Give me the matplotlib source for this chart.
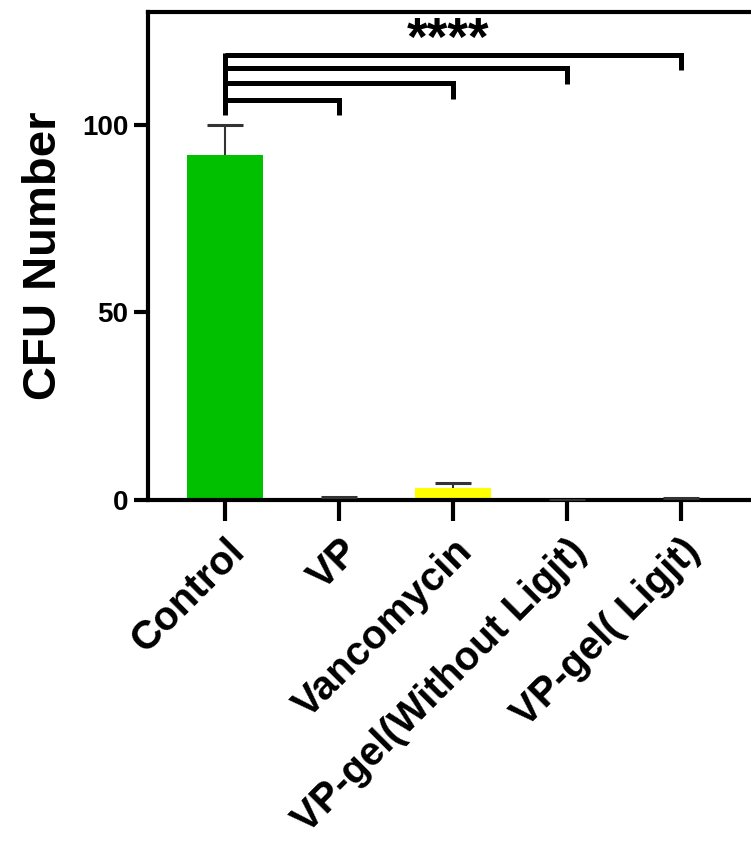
import matplotlib.pyplot as plt
import numpy as np

plt.rcParams['font.family'] = ['Liberation Sans', 'DejaVu Sans']
plt.rcParams['font.weight'] = 'bold'

groups = ['Control', 'VP', 'Vancomycin', 'VP-gel(Without Ligjt)', 'VP-gel( Ligjt)']
cfu = [92, 0.4, 3.3, 0.0, 0.3]
cfu_err = [8, 0.3, 1.2, 0.0, 0.3]
colors = ['#00c000', '#202020', '#ffff00', '#202020', '#202020']

# significance brackets: (group index, bar height, drop end)
sig_pairs = [4, 3, 2, 1]
sig_y = [118.5, 115.0, 111.0, 106.5]
sig_drop = [114.5, 110.8, 106.8, 102.5]
sig_label = '****'

fig = plt.figure(figsize=(7.51, 8.5), dpi=100)
ax = fig.add_axes([148 / 751, 350 / 850, 613 / 751, 488 / 850])

x = np.arange(len(groups))
ax.bar(x, cfu, width=0.667, color=colors, zorder=2)
lower = np.zeros(len(cfu))
eb = ax.errorbar(x, cfu, yerr=[lower, cfu_err], fmt='none', ecolor='#333333',
                 elinewidth=1.5, capsize=13, capthick=2.2, zorder=3)
# only the upper caps, like Prism
eb[1][0].set_visible(False)

lw = 3.6
for j, yy, yd in zip(sig_pairs, sig_y, sig_drop):
    ax.plot([0, j, j], [yy, yy, yd], color='black', lw=lw,
            solid_capstyle='butt', solid_joinstyle='miter', clip_on=False)
ax.plot([0, 0], [sig_y[0] + 0.5, sig_drop[-1]], color='black', lw=lw,
        solid_capstyle='butt', clip_on=False)
ax.text(1.96, 122.3, sig_label, ha='center', va='center', fontsize=38,
        fontweight='bold')

ax.set_xlim(-0.675, 4.7)
ax.set_ylim(0, 130)
ax.set_yticks([0, 50, 100])
ax.set_xticks(x)
ax.set_xticklabels(groups, rotation=45, ha='right', rotation_mode='anchor',
                   fontsize=29, fontweight='bold')
ax.tick_params(axis='y', labelsize=20, width=3, length=10, pad=4)
ax.tick_params(axis='x', width=3, length=15, pad=8)
for lab in ax.get_yticklabels():
    lab.set_fontweight('bold')

for side in ['left', 'bottom', 'top']:
    ax.spines[side].set_linewidth(3)
ax.spines['right'].set_visible(False)

ax.set_ylabel('CFU Number', fontsize=34, fontweight='bold', labelpad=12)

fig.savefig('out.png', dpi=100)
